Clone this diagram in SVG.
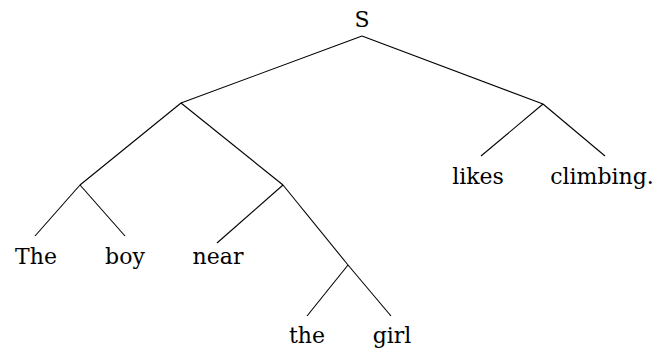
<svg xmlns="http://www.w3.org/2000/svg" width="656" height="354" viewBox="0 0 656 354">
<style>
.e line{stroke:#000;stroke-width:1.1}
</style>
<rect width="656" height="354" fill="#fff"/>
<g id="connectors" class="e">
<line x1="362" y1="36" x2="181" y2="103"/>
<line x1="362" y1="36" x2="543" y2="104"/>
<line x1="181" y1="103" x2="80" y2="185"/>
<line x1="181" y1="103" x2="283" y2="185"/>
<line x1="80" y1="185" x2="35" y2="236"/>
<line x1="80" y1="185" x2="125" y2="236"/>
<line x1="283" y1="185" x2="217" y2="243"/>
<line x1="283" y1="185" x2="348" y2="265"/>
<line x1="348" y1="265" x2="307" y2="316"/>
<line x1="348" y1="265" x2="391" y2="316"/>
<line x1="543" y1="104" x2="481" y2="156"/>
<line x1="543" y1="104" x2="605" y2="156"/>
</g>
<g font-family="DejaVu Serif, serif" font-size="22" fill="#000" text-anchor="middle">
<g id="S"><text x="362" y="27">S</text></g>
<g id="The"><text x="36" y="264">The</text></g>
<g id="boy"><text x="125" y="264">boy</text></g>
<g id="near"><text x="218" y="264">near</text></g>
<g id="the"><text x="307" y="343">the</text></g>
<g id="girl"><text x="392" y="343">girl</text></g>
<g id="likes"><text x="478" y="184">likes</text></g>
<g id="climbing"><text x="602" y="184">climbing.</text></g>
</g>
</svg>
